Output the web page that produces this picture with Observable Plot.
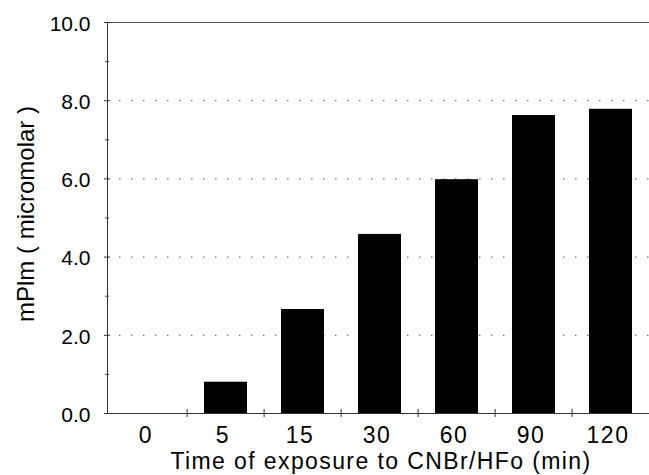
<!DOCTYPE html>
<html>
<head>
<meta charset="utf-8">
<script src="https://cdn.jsdelivr.net/npm/d3@7"></script>
<script src="https://cdn.jsdelivr.net/npm/@observablehq/plot@0.6"></script>
<style>
  html, body { margin: 0; padding: 0; background: white; }
</style>
</head>
<body>
<script>
const categories = ["0", "5", "15", "30", "60", "90", "120"];
const values = [0, 0.8, 2.66, 4.58, 5.98, 7.62, 7.78];
const yTicks = [0, 2, 4, 6, 8, 10];
const yMinorTicks = [1, 3, 5, 7, 9];
const gridValues = [2, 4, 6, 8];
const xTitle = "Time of exposure to CNBr/HFo (min)";
const yTitle = "mPlm ( micromolar )";

const data = categories.map((c, i) => ({time: c, value: values[i]}));

const xRange = [107, 651.6];
const step = (xRange[1] - xRange[0]) / categories.length;
const fmt = d3.format(".1f");

const chart = Plot.plot({
  width: 649,
  height: 475,
  marginLeft: 107,
  marginRight: 0,
  marginTop: 22,
  marginBottom: 62,
  style: {fontFamily: "'Liberation Sans', Arial, Helvetica, sans-serif", background: "white", color: "black"},
  x: {type: "band", domain: categories, range: xRange, paddingInner: 0.44, paddingOuter: 0.22},
  y: {domain: [0, 10]},
  marks: [
    Plot.ruleY(gridValues, {stroke: "#555", strokeDasharray: "1.5,10.5"}),
    Plot.barY(data, {x: "time", y: "value", fill: "black"}),
    Plot.ruleY([0], {stroke: "#333"}),
    Plot.ruleY([10], {stroke: "#555"}),
    Plot.frame({anchor: "left", stroke: "#333"}),
    Plot.axisY({ticks: yTicks, tickSize: 0, tickPadding: 17, tickFormat: fmt, dy: 1.5, label: null}),
    Plot.axisY({ticks: yTicks, tickSize: 6, dx: 3, tickFormat: () => "", label: null, stroke: "#333"}),
    Plot.axisY({ticks: yMinorTicks, tickSize: 4, dx: 2, tickFormat: () => "", label: null, stroke: "#444"}),
    Plot.axisX({tickSize: 0, tickPadding: 13, dx: -3, label: null}),
    Plot.axisX({ticks: categories.slice(1), tickSize: 8, dx: -step / 2, dy: -4, tickFormat: () => "", label: null, stroke: "#333"}),
    Plot.text([xTitle], {frameAnchor: "bottom", textAnchor: "middle", lineAnchor: "middle", dx: 2.5, dy: 48.6, fontSize: 23, fill: "black"}),
    Plot.text([yTitle], {frameAnchor: "left", textAnchor: "middle", lineAnchor: "middle", rotate: -90, dx: -81.5, dy: -4, fontSize: 24, fill: "black"})
  ]
});

const yLabelSet = new Set(yTicks.map(fmt));
const xLabelSet = new Set(categories);
chart.querySelectorAll("text").forEach(t => {
  const s = t.textContent;
  if (s === xTitle) {
    t.setAttribute("letter-spacing", "1.4");
  } else if (yLabelSet.has(s)) {
    t.style.fontSize = "21px";
  } else if (xLabelSet.has(s)) {
    t.style.fontSize = "23px";
    t.setAttribute("letter-spacing", "1.5");
  }
});

document.body.append(chart);
</script>
</body>
</html>
